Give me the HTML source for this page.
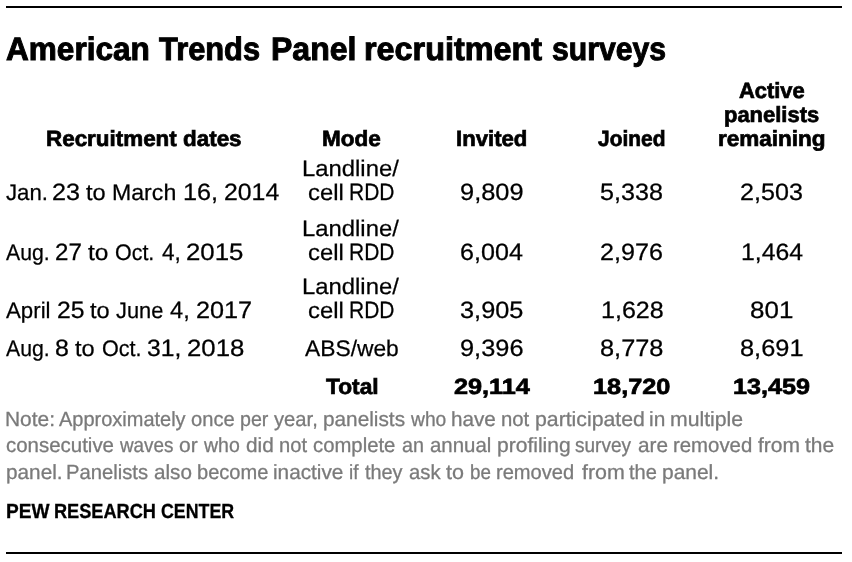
<!DOCTYPE html>
<html lang="en">
<head>
<meta charset="utf-8">
<title>American Trends Panel recruitment surveys</title>
<style>
html,body{margin:0;padding:0;background:#fff;}
body{width:852px;height:562px;position:relative;overflow:hidden;font-family:"Liberation Sans",sans-serif;color:#000;text-rendering:geometricPrecision;}
#chart{position:absolute;left:0;top:0;width:852px;height:562px;will-change:transform;}
.rule{position:absolute;left:6px;width:836px;height:2px;background:#000;}
.ln{position:absolute;left:0;margin:0;padding:0;white-space:nowrap;font-weight:400;}
.ln span{position:absolute;top:0;display:block;transform-origin:0 0;white-space:nowrap;}
.title{font-weight:700;font-size:32.5px;line-height:32.5px;-webkit-text-stroke:1.0px #000;}
.h{font-weight:700;font-size:22px;line-height:22px;-webkit-text-stroke:0.7px #000;}
.d{font-size:22.5px;line-height:22.5px;-webkit-text-stroke:0.25px #000;}
.d span{transform-origin:0 18px;}
.n{font-size:20.5px;line-height:20.5px;color:#7a7a7a;-webkit-text-stroke:0.3px #7a7a7a;}
.p{font-weight:700;font-size:20.5px;line-height:20.5px;-webkit-text-stroke:0.3px #000;}
</style>
</head>
<body>
<main id="chart">
<div class="rule" style="top:6px"></div>
<h1 class="ln title" style="top:33px"><span style="left:5.55px;transform:scaleX(0.9710)">American</span> <span style="left:158.94px;transform:scaleX(0.9486)">Trends</span> <span style="left:270.62px;transform:scaleX(0.9849)">Panel</span> <span style="left:364.33px;transform:scaleX(0.9959)">recruitment</span> <span style="left:551.53px;transform:scaleX(0.9273)">surveys</span></h1>
<section class="tbl" role="table">
<div class="row head" role="row">
<div class="ln h" style="top:128px"><span style="left:46.05px;transform:scaleX(1.0186)">Recruitment</span> <span style="left:183.18px;transform:scaleX(1.0192)">dates</span></div>
<div class="ln h" style="top:128px"><span style="left:322.05px;transform:scaleX(1.0248)">Mode</span></div>
<div class="ln h" style="top:128px"><span style="left:455.76px;transform:scaleX(1.0065)">Invited</span></div>
<div class="ln h" style="top:128px"><span style="left:598.07px;transform:scaleX(0.9508)">Joined</span></div>
<div class="ln h" style="top:80px"><span style="left:738.66px;transform:scaleX(0.9950)">Active</span></div>
<div class="ln h" style="top:104px"><span style="left:723.77px;transform:scaleX(0.9980)">panelists</span></div>
<div class="ln h" style="top:128px"><span style="left:718.04px;transform:scaleX(1.0233)">remaining</span></div>
</div>
<div class="row" role="row">
<div class="ln d" style="top:182px"><span style="left:5.59px;transform:scaleX(0.9886)">Jan.</span> <span style="left:52.26px;transform:scale(1.1214,1.05)">23</span> <span style="left:86.47px;transform:scaleX(1.0485)">to</span> <span style="left:112.00px;transform:scaleX(1.0277)">March</span> <span style="left:182.70px;transform:scale(1.1222,1.05)">16,</span> <span style="left:223.53px;transform:scale(1.1031,1.05)">2014</span></div>
<div class="ln d" style="top:158px"><span style="left:302.20px;transform:scaleX(1.0603)">Landline/</span></div>
<div class="ln d" style="top:182px"><span style="left:307.96px;transform:scaleX(1.0605)">cell</span> <span style="left:349.31px;transform:scale(0.9337,1.05)">RDD</span></div>
<div class="ln d" style="top:182px"><span style="left:459.74px;transform:scale(1.1290,1.05)">9,809</span></div>
<div class="ln d" style="top:182px"><span style="left:600.33px;transform:scale(1.1176,1.05)">5,338</span></div>
<div class="ln d" style="top:182px"><span style="left:740.31px;transform:scale(1.1174,1.05)">2,503</span></div>
</div>
<div class="row" role="row">
<div class="ln d" style="top:242px"><span style="left:6.06px;transform:scaleX(0.9437)">Aug.</span> <span style="left:55.30px;transform:scale(1.0727,1.05)">27</span> <span style="left:88.46px;transform:scaleX(1.0905)">to</span> <span style="left:115.44px;transform:scaleX(0.9522)">Oct.</span> <span style="left:161.57px;transform:scale(1.0041,1.05)">4,</span> <span style="left:185.99px;transform:scale(1.1485,1.05)">2015</span></div>
<div class="ln d" style="top:218px"><span style="left:302.20px;transform:scaleX(1.0603)">Landline/</span></div>
<div class="ln d" style="top:242px"><span style="left:307.96px;transform:scaleX(1.0605)">cell</span> <span style="left:349.31px;transform:scale(0.9337,1.05)">RDD</span></div>
<div class="ln d" style="top:242px"><span style="left:459.71px;transform:scale(1.1166,1.05)">6,004</span></div>
<div class="ln d" style="top:242px"><span style="left:600.31px;transform:scale(1.1175,1.05)">2,976</span></div>
<div class="ln d" style="top:242px"><span style="left:740.53px;transform:scale(1.1019,1.05)">1,464</span></div>
</div>
<div class="row" role="row">
<div class="ln d" style="top:300px"><span style="left:6.06px;transform:scaleX(0.9890)">April</span> <span style="left:56.53px;transform:scale(1.0999,1.05)">25</span> <span style="left:90.47px;transform:scaleX(1.0485)">to</span> <span style="left:115.84px;transform:scaleX(0.9699)">June</span> <span style="left:170.30px;transform:scale(1.0490,1.05)">4,</span> <span style="left:195.51px;transform:scale(1.1220,1.05)">2017</span></div>
<div class="ln d" style="top:276px"><span style="left:302.20px;transform:scaleX(1.0603)">Landline/</span></div>
<div class="ln d" style="top:300px"><span style="left:307.96px;transform:scaleX(1.0605)">cell</span> <span style="left:349.31px;transform:scale(0.9337,1.05)">RDD</span></div>
<div class="ln d" style="top:300px"><span style="left:459.84px;transform:scale(1.1259,1.05)">3,905</span></div>
<div class="ln d" style="top:300px"><span style="left:600.51px;transform:scale(1.1143,1.05)">1,628</span></div>
<div class="ln d" style="top:300px"><span style="left:749.76px;transform:scale(1.1541,1.05)">801</span></div>
</div>
<div class="row" role="row">
<div class="ln d" style="top:338px"><span style="left:6.06px;transform:scaleX(0.9437)">Aug.</span> <span style="left:55.35px;transform:scale(1.1091,1.05)">8</span> <span style="left:75.47px;transform:scaleX(1.0485)">to</span> <span style="left:101.69px;transform:scaleX(0.9586)">Oct.</span> <span style="left:147.16px;transform:scale(1.0981,1.05)">31,</span> <span style="left:186.69px;transform:scale(1.1456,1.05)">2018</span></div>
<div class="ln d" style="top:338px"><span style="left:305.06px;transform:scaleX(1.0135)">ABS/web</span></div>
<div class="ln d" style="top:338px"><span style="left:459.74px;transform:scale(1.1277,1.05)">9,396</span></div>
<div class="ln d" style="top:338px"><span style="left:599.78px;transform:scale(1.1275,1.05)">8,778</span></div>
<div class="ln d" style="top:338px"><span style="left:739.78px;transform:scale(1.1284,1.05)">8,691</span></div>
</div>
<div class="row total" role="row">
<div class="ln h" style="top:376px"><span style="left:325.88px;transform:scaleX(1.0334)">Total</span></div>
<div class="ln h" style="top:376px"><span style="left:453.54px;transform:scaleX(1.1473)">29,114</span></div>
<div class="ln h" style="top:376px"><span style="left:592.96px;transform:scaleX(1.1501)">18,720</span></div>
<div class="ln h" style="top:376px"><span style="left:732.97px;transform:scaleX(1.1440)">13,459</span></div>
</div>
</section>
<footer class="note">
<p class="ln n" style="top:410px"><span style="left:5.46px;transform:scaleX(1.0193)">Note:</span> <span style="left:59.34px;transform:scaleX(0.9748)">Approximately</span> <span style="left:191.31px;transform:scaleX(0.9829)">once</span> <span style="left:239.75px;transform:scaleX(0.9580)">per</span> <span style="left:274.37px;transform:scaleX(0.9841)">year,</span> <span style="left:323.42px;transform:scaleX(1.0138)">panelists</span> <span style="left:410.65px;transform:scaleX(0.9378)">who</span> <span style="left:451.43px;transform:scaleX(1.0088)">have</span> <span style="left:500.95px;transform:scaleX(0.9918)">not</span> <span style="left:535.39px;transform:scaleX(1.0368)">participated</span> <span style="left:648.95px;transform:scaleX(1.0196)">in</span> <span style="left:670.14px;transform:scaleX(1.0351)">multiple</span></p>
<p class="ln n" style="top:436px"><span style="left:5.78px;transform:scaleX(0.9974)">consecutive</span> <span style="left:119.65px;transform:scaleX(0.9196)">waves</span> <span style="left:178.78px;transform:scaleX(1.0239)">or</span> <span style="left:203.91px;transform:scaleX(0.9512)">who</span> <span style="left:245.54px;transform:scaleX(1.0138)">did</span> <span style="left:278.71px;transform:scaleX(0.9826)">not</span> <span style="left:313.04px;transform:scaleX(0.9905)">complete</span> <span style="left:401.54px;transform:scaleX(0.9630)">an</span> <span style="left:430.27px;transform:scaleX(0.9960)">annual</span> <span style="left:497.16px;transform:scaleX(1.0268)">profiling</span> <span style="left:575.42px;transform:scaleX(0.9264)">survey</span> <span style="left:637.75px;transform:scaleX(1.0122)">are</span> <span style="left:672.70px;transform:scaleX(0.9936)">removed</span> <span style="left:757.81px;transform:scaleX(1.0260)">from</span> <span style="left:804.90px;transform:scaleX(1.0238)">the</span></p>
<p class="ln n" style="top:463px"><span style="left:5.67px;transform:scaleX(1.0128)">panel.</span> <span style="left:66.01px;transform:scaleX(0.9860)">Panelists</span> <span style="left:153.76px;transform:scaleX(1.0091)">also</span> <span style="left:196.76px;transform:scaleX(0.9783)">become</span> <span style="left:273.46px;transform:scaleX(1.0125)">inactive</span> <span style="left:348.81px;transform:scaleX(0.9287)">if</span> <span style="left:364.67px;transform:scaleX(0.9684)">they</span> <span style="left:408.52px;transform:scaleX(0.9880)">ask</span> <span style="left:446.15px;transform:scaleX(1.0501)">to</span> <span style="left:469.84px;transform:scaleX(0.9150)">be</span> <span style="left:496.47px;transform:scaleX(0.9806)">removed</span> <span style="left:581.57px;transform:scaleX(1.0447)">from</span> <span style="left:629.42px;transform:scaleX(0.9781)">the</span> <span style="left:662.16px;transform:scaleX(1.0222)">panel.</span></p>
</footer>
<footer class="source">
<p class="ln p" style="top:502px"><span style="left:5.51px;transform:scaleX(0.9322)">PEW</span> <span style="left:53.87px;transform:scaleX(0.8864)">RESEARCH</span> <span style="left:161.09px;transform:scaleX(0.8671)">CENTER</span></p>
</footer>
<div class="rule" style="top:552px"></div>
</main>
</body>
</html>
